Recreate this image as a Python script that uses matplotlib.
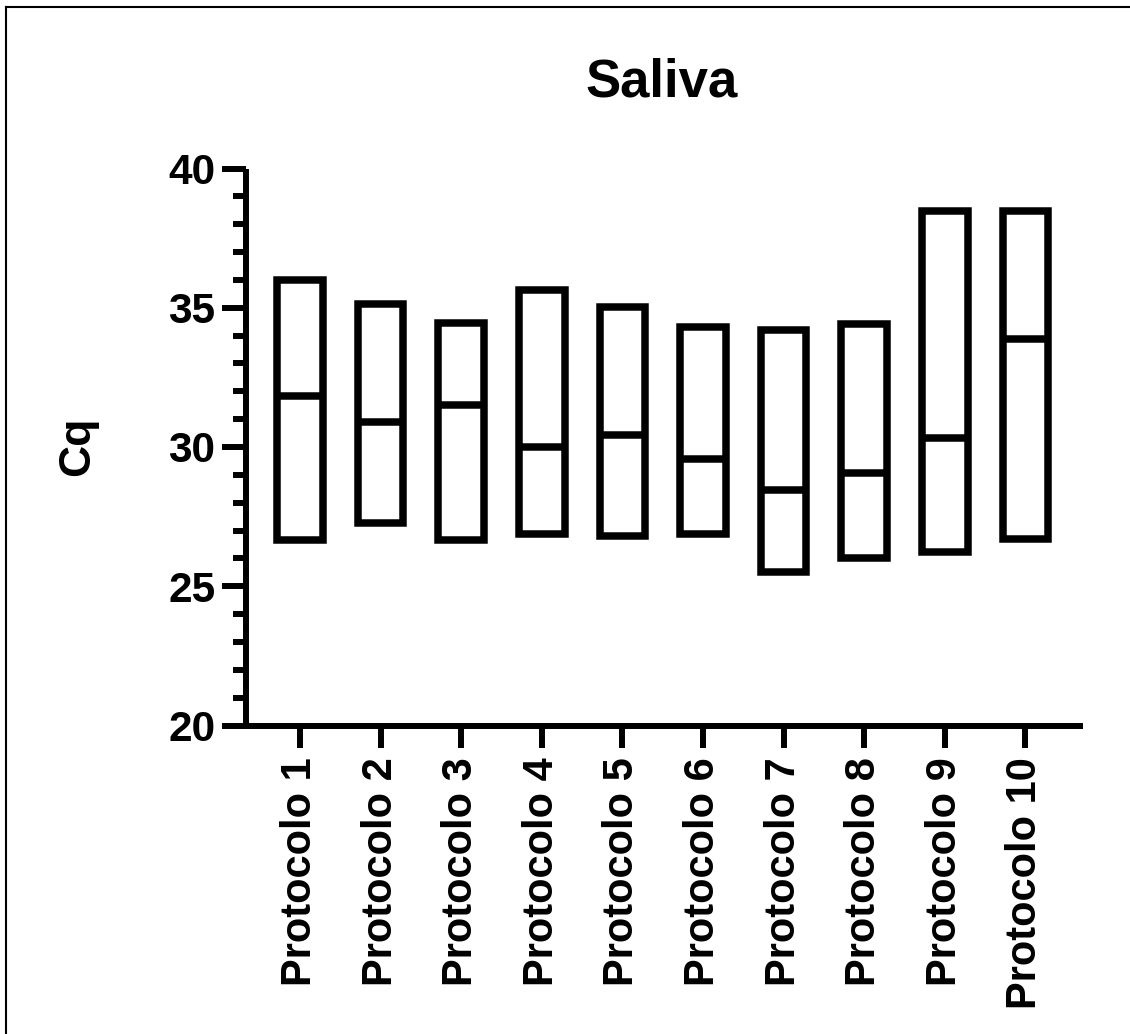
import matplotlib
matplotlib.use("Agg")
import matplotlib.pyplot as plt
from matplotlib.ticker import MultipleLocator
from matplotlib.lines import Line2D
import numpy as np

plt.rcParams['font.family'] = ['Liberation Sans', 'DejaVu Sans']
plt.rcParams['font.weight'] = 'bold'

categories = ["Protocolo 1", "Protocolo 2", "Protocolo 3", "Protocolo 4", "Protocolo 5",
              "Protocolo 6", "Protocolo 7", "Protocolo 8", "Protocolo 9", "Protocolo 10"]
cq_min = [26.65, 27.26, 26.65, 26.89, 26.80, 26.86, 25.50, 26.00, 26.23, 26.70]
cq_max = [36.00, 35.12, 34.44, 35.64, 35.02, 34.32, 34.19, 34.42, 38.49, 38.49]
cq_median = [31.82, 30.90, 31.50, 30.00, 30.42, 29.56, 28.46, 29.05, 30.31, 33.87]
y_ticks = [20, 25, 30, 35, 40]

W, H = 1130, 1034
fig = plt.figure(figsize=(W / 100, H / 100), dpi=100)
ax = fig.add_axes([246 / W, 1 - 725.5 / H, (1083 - 246) / W, (725.5 - 168.5) / H])

x = np.arange(len(categories))
bw = 0.565
lw_bar = 5.4
heights = np.array(cq_max) - np.array(cq_min)
ax.bar(x, heights, bottom=cq_min, width=bw, fill=False, edgecolor='black',
       linewidth=lw_bar, joinstyle='miter', zorder=3)
ax.hlines(cq_median, x - bw / 2, x + bw / 2, colors='black', linewidth=lw_bar, zorder=3)

ax.set_xlim(-0.67, 9.714)
ax.set_ylim(20, 40)
ax.set_yticks(y_ticks)
ax.yaxis.set_minor_locator(MultipleLocator(1))
ax.set_xticks(x)
ax.set_xticklabels(categories, rotation=90, ha='center', va='top')

for s in ['top', 'right']:
    ax.spines[s].set_visible(False)
for s in ['left', 'bottom']:
    ax.spines[s].set_linewidth(4.3)
    ax.spines[s].set_capstyle('butt')

ax.tick_params(axis='y', which='major', length=17, width=4.3, labelsize=30.5, pad=5, direction='out')
ax.tick_params(axis='y', which='minor', length=9.7, width=4.3, direction='out')
ax.tick_params(axis='x', which='major', length=16, width=4.3, labelsize=30, pad=7, direction='out')
for lab in ax.get_xticklabels() + ax.get_yticklabels():
    lab.set_fontweight('bold')

fig.text(78 / W, 1 - 446.5 / H, "Cq", rotation=90, ha='center', va='center',
         fontsize=32, fontweight='bold')
fig.text(662 / W, 1 - 96.7 / H, "Saliva", ha='center', va='baseline',
         fontsize=38, fontweight='bold')

# figure frame (top and left edges visible)
fig.add_artist(Line2D([6 / W, 1], [1 - 7 / H, 1 - 7 / H], transform=fig.transFigure,
                      color='black', linewidth=1.5))
fig.add_artist(Line2D([6 / W, 6 / W], [0, 1 - 7 / H], transform=fig.transFigure,
                      color='black', linewidth=1.5))

fig.savefig("out.png", dpi=100)
